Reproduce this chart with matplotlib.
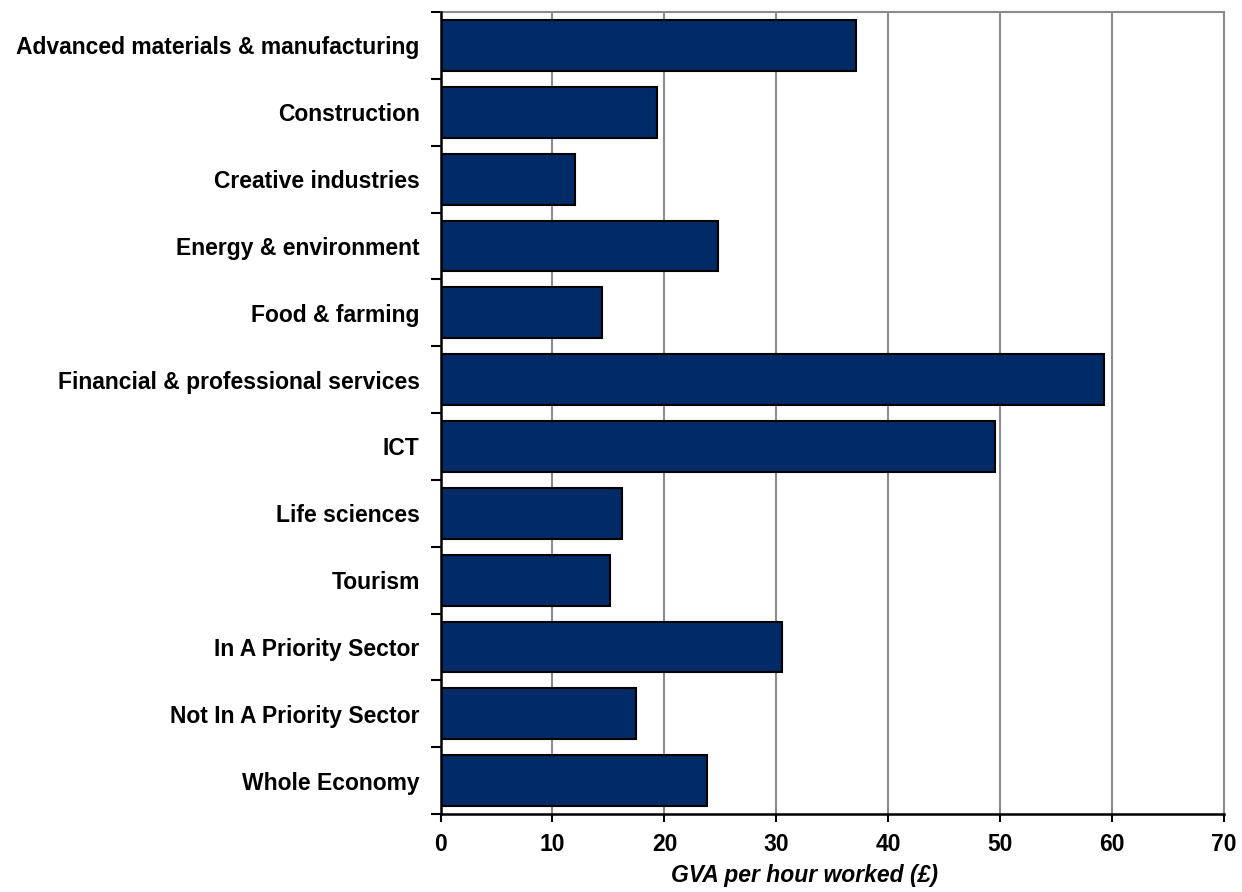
import matplotlib.pyplot as plt
import numpy as np

plt.rcParams['font.family'] = ['Liberation Sans', 'DejaVu Sans']

sectors = ["Advanced materials & manufacturing", "Construction", "Creative industries",
           "Energy & environment", "Food & farming", "Financial & professional services",
           "ICT", "Life sciences", "Tourism", "In A Priority Sector",
           "Not In A Priority Sector", "Whole Economy"]
gva = [37.1, 19.3, 12.0, 24.8, 14.45, 59.3, 49.5, 16.2, 15.1, 30.5, 17.5, 23.8]
xticks = [0, 10, 20, 30, 40, 50, 60, 70]

fig = plt.figure(figsize=(12.42, 8.92), dpi=100)
ax = fig.add_axes([0.3547, 0.0874, 0.6310, 0.8991])

y = np.arange(len(sectors))
ax.barh(y, gva, height=0.76, color='#002B66', edgecolor='black', linewidth=1.5, zorder=3)

ax.set_xlim(0, 70)
ax.set_ylim(len(sectors) - 0.5, -0.5)
ax.set_xticks(xticks)
ax.set_xticklabels([str(t) for t in xticks], fontsize=16.5, fontweight='bold')
ax.set_yticks(y)
ax.set_yticklabels(sectors, fontsize=16.5, fontweight='bold')
ax.set_yticks(np.arange(len(sectors) + 1) - 0.5, minor=True)
ax.tick_params(axis='y', which='major', length=0, pad=15)
ax.tick_params(axis='y', which='minor', length=7, width=1.5, direction='out')
ax.tick_params(axis='x', length=6, width=1.5, direction='out', pad=8)

ax.grid(axis='x', color='#8c8c8c', linewidth=1.5, zorder=0)
ax.spines['left'].set_linewidth(1.8)
ax.spines['bottom'].set_linewidth(1.8)
ax.spines['left'].set_zorder(4)
ax.spines['top'].set_color('#8c8c8c')
ax.spines['right'].set_color('#8c8c8c')
ax.spines['top'].set_linewidth(1.5)
ax.spines['right'].set_linewidth(1.5)

ax.set_xlabel('GVA per hour worked (£)', fontsize=16.5, fontweight='bold', style='italic')
ax.xaxis.set_label_coords(0.465, -0.062)

fig.savefig('out.png', dpi=100)
